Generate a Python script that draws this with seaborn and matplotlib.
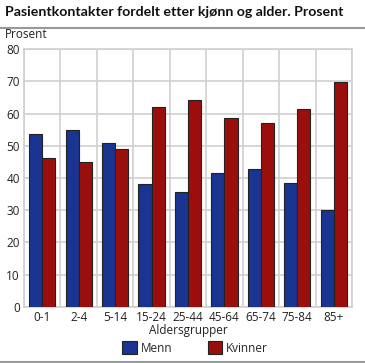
import seaborn as sns
import numpy as np
import pandas as pd
import matplotlib
matplotlib.use('Agg')
from matplotlib import pyplot as plt
from matplotlib.lines import Line2D

# aldersgrupper og andeler i prosent
groups = ['0-1', '2-4', '5-14', '15-24', '25-44', '45-64', '65-74', '75-84', '85+']
menn = [53.7, 54.9, 51.0, 38.0, 35.8, 41.5, 42.8, 38.5, 30.2]
kvinner = [46.3, 45.1, 49.0, 62.0, 64.2, 58.5, 57.2, 61.5, 69.8]
series = ['Menn', 'Kvinner']
colors = ['#1a3591', '#9a0f0c']

df = pd.DataFrame({
    'gruppe': groups * 2,
    'kjonn': ['Menn'] * len(groups) + ['Kvinner'] * len(groups),
    'prosent': menn + kvinner,
})

sns.set_style('white')
plt.rcParams['font.family'] = ['Open Sans', 'DejaVu Sans']

fig = plt.figure(figsize=(3.65, 3.63), dpi=100)
ax = fig.add_axes([24 / 365, 1 - 306.7 / 363, 328 / 365, 257.4 / 363])

sns.barplot(data=df, x='gruppe', y='prosent', hue='kjonn', hue_order=series,
            palette=colors, width=0.72, edgecolor='#222222', linewidth=0.8,
            saturation=1, ax=ax, zorder=3)

ax.set_ylim(0, 80)
ax.set_xlim(-0.5, len(groups) - 0.5)
ax.set_yticks(range(0, 81, 10))
ax.set_xticks(np.arange(-0.5, len(groups), 1), minor=True)
ax.grid(True, axis='y', color='#d0d0d0', linewidth=1.2, zorder=0)
ax.grid(True, axis='x', which='minor', color='#d0d0d0', linewidth=1.2, zorder=0)
ax.grid(False, axis='x', which='major')
ax.tick_params(axis='both', which='both', length=0, labelsize=8.5, colors='#222222', pad=3)
for s in ax.spines.values():
    s.set_color('#d0d0d0')
    s.set_linewidth(1.2)
ax.set_ylabel('')
ax.set_xlabel('Aldersgrupper', fontsize=8.5, color='#222222', labelpad=0)

ax.legend_.remove()
handles = [plt.Rectangle((0, 0), 1, 1, facecolor=c, edgecolor='#222222', linewidth=0.8) for c in colors]
fig.legend(handles, series, loc='center', bbox_to_anchor=(195 / 365, 1 - 348 / 363),
           ncol=2, frameon=False, fontsize=8.5, handlelength=1.25, handleheight=1.25,
           columnspacing=3.0, handletextpad=0.3)

fig.text(5 / 365, 1 - 12 / 363, 'Pasientkontakter fordelt etter kjønn og alder. Prosent',
         fontsize=10.2, fontweight='bold', family='Lato', va='center', ha='left', color='#111111')
fig.text(5 / 365, 1 - 34 / 363, 'Prosent', fontsize=8.5, va='center', ha='left', color='#222222')
fig.add_artist(Line2D([0, 1], [1 - 28 / 363, 1 - 28 / 363], color='#999999', linewidth=1.5))
fig.add_artist(Line2D([0, 1], [1 - 361.5 / 363, 1 - 361.5 / 363], color='#999999', linewidth=1.5))

fig.savefig('out.png', dpi=100)
